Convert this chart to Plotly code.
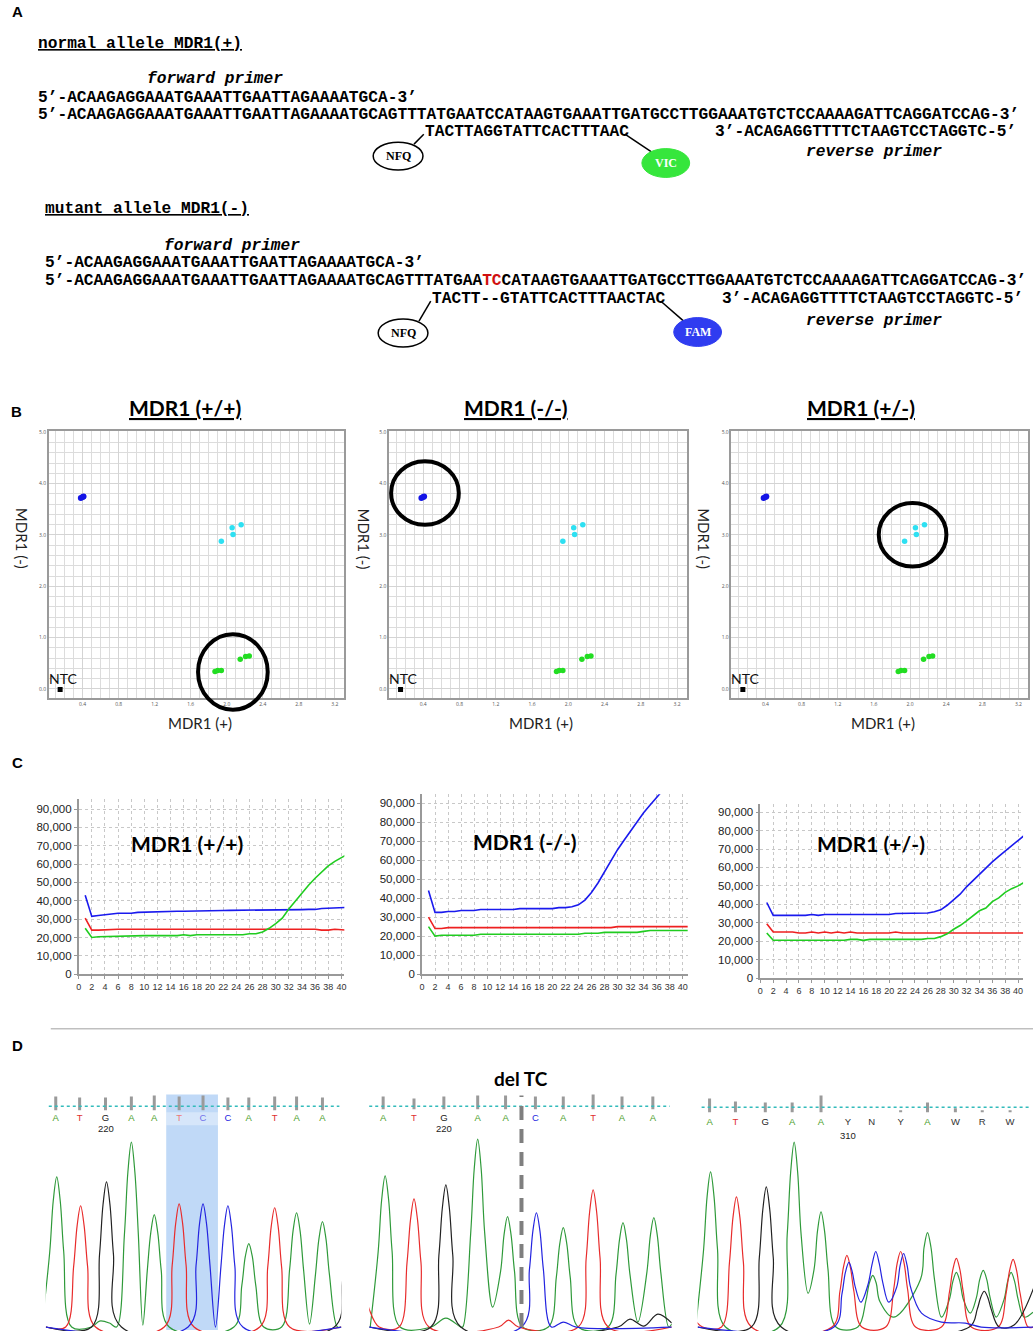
import plotly.graph_objects as go

W, H = 1035, 1339

# ---------------- A: sequences ----------------
fwd_primer = "5’-ACAAGAGGAAATGAAATTGAATTAGAAAATGCA-3’"
seq_head = "5’-ACAAGAGGAAATGAAATTGAATTAGAAAATGCAGTTTATGAA"
seq_tc = "TC"
seq_tail = "CATAAGTGAAATTGATGCCTTGGAAATGTCTCCAAAAGATTCAGGATCCAG-3’"
probe_vic = "TACTTAGGTATTCACTTTAAC"
probe_fam = "TACTT--GTATTCACTTTAACTAC"
rev_primer = "3’-ACAGAGGTTTTCTAAGTCCTAGGTC-5’"
probe_start = 40   # character index under the template
rev_start = 70

# ---------------- B: allelic discrimination ----------------
fam_x = [0.38, 0.40, 0.41]
fam_y = [3.72, 3.74, 3.75]
het_x = [2.06, 2.16, 2.07, 1.94]
het_y = [3.14, 3.20, 3.01, 2.88]
vic_x = [1.87, 1.90, 1.94, 2.15, 2.21, 2.25]
vic_y = [0.34, 0.36, 0.36, 0.58, 0.63, 0.64]
ntc_x = [0.15]
ntc_y = [-0.01]
genotypes = ['MDR1 (+/+)', 'MDR1 (-/-)', 'MDR1 (+/-)']
b_xticks = [0.4, 0.8, 1.2, 1.6, 2.0, 2.4, 2.8, 3.2]
b_yticks = [0.0, 1.0, 2.0, 3.0, 4.0, 5.0]

# ---------------- C: amplification plots ----------------
cycles = list(range(1, 42))
c1_blue = [43000, 31500, 32000, 32500, 33000, 33200, 33200, 33200, 33700, 33800,
           33800, 34300, 34300, 34300, 34300, 34300, 34300, 34300, 34300, 34300,
           34300, 34700, 34800, 34800, 34800, 34800, 34800, 34800, 34800, 34800,
           34800, 34800, 35000, 35200, 35300, 35300, 35800, 36000, 36000, 36200, 36400]
c1_red = [30500, 24000, 24000, 24300, 24500, 24500, 24500, 24500, 24500, 24500,
          24500, 24500, 24500, 24500, 24500, 24500, 24500, 24500, 24500, 24500,
          24500, 24500, 24500, 24500, 24500, 24500, 24500, 24500, 24500, 24500,
          24500, 24500, 24500, 24500, 24500, 24500, 24000, 24000, 24500, 24200, 24000]
c1_green = [25000, 20000, 20400, 20500, 20500, 20500, 21000, 21000, 21000, 21000,
            21000, 21000, 21000, 21000, 21000, 21500, 21000, 21500, 21500, 21500,
            21500, 21500, 21500, 21500, 21500, 22000, 22000, 23000, 25000, 27500,
            30500, 35500, 40000, 44500, 48500, 52300, 55500, 59000, 61500, 63500, 65500]
c2_blue = [44000, 32500, 32500, 33000, 33000, 33500, 33500, 33500, 34000, 34000,
           34000, 34000, 34000, 34000, 34500, 34500, 34500, 34500, 34500, 34500,
           35000, 35000, 35500, 36500, 39000, 43000, 48000, 54000, 60000, 65500,
           70500, 75500, 80500, 85000, 89000, 93000, 97000, 100000, 103000, 106000, 108000]
c2_red = [30000, 24000, 24000, 24500, 24500, 24500, 24500, 24500, 24500, 24500,
          24500, 24500, 24500, 24500, 24500, 24500, 24500, 24500, 24500, 24500,
          24500, 24500, 24500, 24500, 24500, 24500, 24500, 24500, 24500, 25000,
          25000, 25000, 25000, 25000, 25000, 25000, 25000, 25000, 25000, 25000, 25000]
c2_green = [25000, 20000, 20500, 20500, 20500, 20500, 20500, 20500, 21000, 21000,
            21000, 21000, 21000, 21000, 21000, 21000, 21000, 21000, 21000, 21000,
            21000, 21000, 21000, 21000, 21500, 21500, 21500, 22000, 22000, 22000,
            22000, 22000, 22000, 22500, 23000, 23000, 23000, 23000, 23000, 23000, 23000]
c3_blue = [41000, 34000, 34000, 34000, 34000, 34000, 34000, 34500, 34000, 34500,
           34500, 34500, 34500, 34500, 34500, 34500, 34500, 34500, 34500, 34500,
           35000, 35000, 35000, 35000, 35000, 35300, 36000, 37000, 39500, 42500,
           45500, 49500, 53000, 56500, 59500, 63000, 66000, 69000, 71500, 74500, 77500]
c3_red = [29500, 25000, 25000, 25000, 25000, 24500, 24500, 25000, 24500, 25000,
          24500, 25000, 24500, 25000, 24500, 24500, 24500, 24500, 24500, 24500,
          25000, 24500, 24500, 24500, 24500, 24500, 24500, 24500, 24500, 24500,
          24500, 24500, 24500, 24500, 24500, 24500, 24500, 24500, 24500, 24500, 24500]
c3_green = [24500, 20500, 20500, 20500, 20500, 20500, 20500, 20500, 20500, 20500,
            20500, 20500, 20500, 21000, 21000, 20500, 21000, 21000, 21000, 21000,
            21000, 21000, 21000, 21000, 21000, 21500, 21500, 22500, 24000, 26500,
            28500, 31000, 34000, 36500, 38000, 41500, 43500, 46500, 48500, 50000, 52000]
c_xticks = list(range(0, 41, 2))

# ---------------- D: sequencing traces (scan units, signal units) ----------------
d1_bases = ['A', 'T', 'G', 'A', 'A', 'T', 'C', 'C', 'A', 'T', 'A', 'A']
d1_pos = [10, 34, 60, 86, 109, 134, 158, 183, 204, 230, 252, 278]
d1_qual = [14, 13, 13, 14, 15, 14, 15, 13, 13, 14, 14, 13]
d1_a_x = [-4, 4, 7.5, 11, 14.5, 18, 26, 46, 54, 64, 71, 79, 82.5, 86, 89.5, 93, 97.5,
          102, 105.5, 109, 112.5, 116, 124, 189, 197, 200.5, 204, 207.5, 211, 219,
          237, 245, 248.5, 252, 255.5, 259, 265, 271, 274.5, 278, 281.5, 285, 293, 297]
d1_a_y = [0, 76, 127, 151, 127, 76, 0, 0, 6, 4, 0, 93, 156, 186, 156, 93, 2,
          57, 95, 113, 95, 57, 0, 0, 42, 71, 84, 71, 42, 0,
          0, 58, 97, 115, 97, 58, 3, 53, 89, 106, 89, 53, 0, 0]
d1_t_x = [0, 20, 28, 31.5, 35, 38.5, 42, 50, 119, 127, 130.5, 134, 137.5, 141, 149,
          215, 223, 226.5, 230, 233.5, 237, 245, 297]
d1_t_y = [0, 0, 61, 102, 122, 102, 61, 0, 0, 62, 104, 124, 104, 62, 0,
          0, 60, 101, 120, 101, 60, 0, 0]
d1_g_x = [0, 46, 54, 57.5, 61, 64.5, 68, 76, 290, 298, 301.5, 305]
d1_g_y = [0, 0, 73, 123, 146, 123, 73, 0, 0, 45, 76, 90]
d1_c_x = [0, 143, 151, 154.5, 158, 161.5, 165, 170.5, 176, 179.5, 183, 186.5, 190, 198, 297]
d1_c_y = [0, 0, 62, 104, 124, 104, 62, 0, 61, 102, 122, 102, 61, 0, 0]

d2_bases = ['A', 'T', 'G', 'A', 'A', 'C', 'A', 'T', 'A', 'A']
d2_pos = [14, 45, 75, 109, 137, 167, 195, 225, 254, 285]
d2_qual = [13, 11, 13, 14, 14, 13, 13, 15, 13, 13]
d2_a_x = [1, 9, 12.5, 16, 19.5, 23, 31, 62, 77, 92, 94, 102, 105.5, 109, 112.5, 116, 124,
          132, 135.5, 139, 142.5, 146, 154, 180, 188, 191.5, 195, 198.5, 202, 210,
          240, 248, 251.5, 255, 258.5, 262, 270, 279, 282.5, 286, 289.5, 293, 301, 304]
d2_a_y = [0, 76, 128, 152, 128, 76, 0, 0, 9, 0, 0, 95, 159, 189, 159, 95, 20,
          56, 93, 111, 93, 56, 0, 0, 50, 84, 100, 84, 50, 0,
          0, 53, 88, 105, 88, 53, 5, 55, 92, 110, 92, 55, 0, 3]
d2_t_x = [-6, 0, 10, 30, 38, 41.5, 45, 48.5, 52, 60, 130, 140, 150,
          210, 218, 221.5, 225, 228.5, 232, 240, 304]
d2_t_y = [45, 18, 0, 0, 65, 108, 129, 108, 65, 0, 0, 7, 0,
          0, 69, 116, 138, 116, 69, 0, 0]
d2_g_x = [0, 62, 70, 73.5, 77, 80.5, 84, 92, 250, 262, 276, 290, 304]
d2_g_y = [0, 0, 72, 120, 143, 120, 72, 0, 0, 8, 1, 13, 4]
d2_c_x = [0, 153, 161, 164.5, 168, 171.5, 175, 183, 195, 208, 304]
d2_c_y = [0, 0, 58, 97, 115, 97, 58, 0, 5, 0, 0]
d2_deletion = 153

d3_bases = ['A', 'T', 'G', 'A', 'A', 'Y', 'N', 'Y', 'A', 'W', 'R', 'W']
d3_pos = [12, 38, 68, 95, 124, 151, 175, 204, 231, 259, 286, 314]
d3_qual = [14, 11, 10, 10, 17, 0, 0, 2, 10, 4, 2, 2]
d3_a_x = [-2, 6, 9.5, 13, 16.5, 20, 28, 82, 90, 93.5, 97, 100.5, 104, 111,
          117, 120.5, 124, 127.5, 131, 139, 161, 169, 172.5, 176, 179.5, 183, 197,
          224, 227.5, 231, 234.5, 238, 245, 253, 256.5, 260, 263.5, 267, 274,
          280, 283.5, 287, 290.5, 294, 300, 308, 311.5, 315, 318.5, 322, 328, 337]
d3_a_y = [0, 78, 131, 156, 131, 78, 0, 0, 93, 156, 186, 156, 93, 34,
          58, 97, 116, 97, 58, 0, 0, 26, 44, 52, 44, 26, 10,
          48, 80, 95, 80, 48, 10, 28, 46, 55, 46, 28, 14,
          29, 48, 57, 48, 29, 10, 28, 46, 55, 46, 28, 10, 15]
d3_t_x = [-5, 5, 24, 32, 35.5, 39, 42.5, 46, 54, 135, 143, 146.5, 150, 153.5, 157, 165,
          189, 197, 200.5, 204, 207.5, 211, 219, 245, 253, 256.5, 260, 263.5, 267, 275,
          302, 310, 313.5, 317, 320.5, 324, 332, 337]
d3_t_y = [10, 0, 0, 65, 110, 131, 110, 65, 0, 0, 36, 60, 72, 60, 36, 0,
          0, 38, 64, 76, 64, 38, 0, 0, 35, 58, 69, 58, 35, 0,
          0, 34, 57, 68, 57, 34, 0, 0]
d3_g_x = [0, 54, 62, 65.5, 69, 72.5, 76, 84, 273, 281, 284.5, 288, 291.5, 295, 303, 318, 345]
d3_g_y = [0, 0, 70, 118, 141, 118, 70, 0, 0, 18, 30, 36, 30, 18, 0, 2, 60]
d3_c_x = [0, 137, 145, 148.5, 152, 155.5, 158, 164, 171, 175.5, 179, 182.5, 186, 192,
          200, 203.5, 207, 210.5, 214, 225, 245, 269, 285, 337]
d3_c_y = [0, 0, 33, 55, 65, 55, 42, 25, 42, 64, 76, 64, 45, 25,
          40, 62, 74, 62, 40, 14, 5, 4, 0, 0]

BLUE, RED, GREEN = '#1a1aee', '#ee2020', '#20cc20'
TR_A, TR_T, TR_G, TR_C = '#2f9a3a', '#e82c2c', '#222222', '#2424e0'
LETTER_COL = {'A': '#4a9e2a', 'T': '#e03030', 'G': '#202020', 'C': '#2424e0'}


def px(x):
    return x / W


def py(y):
    return 1 - y / H


fig = go.Figure()
annotations = []
shapes = []
layout_axes = {}
n_axes = [0]


def new_axes(x0, x1, y0, y1, xa, ya):
    n_axes[0] += 1
    k = n_axes[0]
    s = '' if k == 1 else str(k)
    layout_axes['xaxis' + s] = dict(domain=[px(x0), px(x1)], anchor='y' + s, **xa)
    layout_axes['yaxis' + s] = dict(domain=[py(y1), py(y0)], anchor='x' + s, **ya)
    return 'x' + s, 'y' + s


def txt(x, y, text, size, family, color='black', xanchor='left', **kw):
    annotations.append(dict(x=px(x), y=py(y), xref='paper', yref='paper', text=text,
                            showarrow=False, xanchor=xanchor, yanchor='middle',
                            font=dict(size=size, family=family, color=color), **kw))


SANS = 'Lato'
MONO = 'Liberation Mono'
FS = 16.2
CW = FS * 0.6

# panel letters
for letter, (lx, ly) in zip('ABCD', [(15, 10), (14, 412), (15, 765), (15, 1050)]):
    txt(lx, ly, '<b>' + letter + '</b>', 15, 'Liberation Sans', xanchor='center')

# ---------- A ----------
blocks = [
    dict(x0=33, title='normal allele MDR1(+)', fp_x=143, ys=[42, 77, 97, 114, 131, 151],
         tc_color='black', probe=probe_vic, dye='VIC', dye_fill='#36e63c',
         nfq=(397, 155), dye_c=(666, 162)),
    dict(x0=40, title='mutant allele MDR1(-)', fp_x=160, ys=[208, 245, 263, 281, 299, 321],
         tc_color='#d01010', probe=probe_fam, dye='FAM', dye_fill='#2f3cf0',
         nfq=(402, 333), dye_c=(698, 332)),
]
for b in blocks:
    x0 = b['x0']
    yt, yfp, yf, ys, yp, yrp = b['ys']
    txt(x0, yt, '<b><u>' + b['title'] + '</u></b>', FS, MONO)
    txt(b['fp_x'], yfp, '<b><i>forward primer</i></b>', FS, MONO)
    txt(x0, yf, '<b>' + fwd_primer + '</b>', FS, MONO)
    txt(x0, ys, '<b>' + seq_head + "<span style='color:%s'>" % b['tc_color'] + seq_tc
        + '</span>' + seq_tail + '</b>', FS, MONO)
    txt(x0 + probe_start * CW, yp, '<b>' + b['probe'] + '</b>', FS, MONO)
    txt(x0 + rev_start * CW, yp, '<b>' + rev_primer + '</b>', FS, MONO)
    txt(805, yrp, '<b><i>reverse primer</i></b>', FS, MONO)
    # quencher / dye ellipses
    p_left = x0 + probe_start * CW
    p_right = p_left + len(b['probe']) * CW
    nx, ny = b['nfq']
    dx, dy = b['dye_c']
    shapes.append(dict(type='line', xref='paper', yref='paper', x0=px(nx + 16), y0=py(ny - 12),
                       x1=px(p_left + 1), y1=py(yp + 2), line=dict(color='black', width=1.5)))
    shapes.append(dict(type='line', xref='paper', yref='paper', x0=px(p_right - 1), y0=py(yp + 2),
                       x1=px(dx - 14), y1=py(dy - 11), line=dict(color='black', width=1.5)))
    shapes.append(dict(type='circle', xref='paper', yref='paper', x0=px(nx - 25), x1=px(nx + 25),
                       y0=py(ny + 14), y1=py(ny - 14), fillcolor='white',
                       line=dict(color='black', width=1.5)))
    shapes.append(dict(type='circle', xref='paper', yref='paper', x0=px(dx - 24), x1=px(dx + 24),
                       y0=py(dy + 14.5), y1=py(dy - 14.5), fillcolor=b['dye_fill'],
                       line=dict(color=b['dye_fill'], width=1)))
    txt(nx, ny, '<b>NFQ</b>', 12, 'Liberation Serif', xanchor='center')
    txt(dx, dy, '<b>' + b['dye'] + '</b>', 12, 'Liberation Serif', color='white', xanchor='center')

# ---------- B ----------
b_left = [46, 388, 732]
b_right = [343, 687, 1030]
b_title_x = [183, 515, 862]
b_ytitle_x = [19, 363, 705]
b_circles = [(231, 674, 35, 38), (424, 494, 34, 32), (914, 536, 34, 32)]
for i in range(3):
    xa = dict(range=[0.024, 3.306], tickvals=b_xticks, ticktext=['%.1f' % v for v in b_xticks],
              tickfont=dict(size=5, color='#555'), showgrid=True, gridcolor='#d4d4d4',
              minor=dict(dtick=0.1, showgrid=True, gridcolor='#dcdcdc'),
              showline=True, mirror=True, linecolor='#9a9a9a', linewidth=1.5,
              zeroline=False, ticks='')
    ya = dict(range=[-0.174, 5.019], tickvals=b_yticks, ticktext=['%.1f' % v for v in b_yticks],
              tickfont=dict(size=5, color='#555'), showgrid=True, gridcolor='#d4d4d4',
              minor=dict(dtick=0.2, showgrid=True, gridcolor='#dcdcdc'),
              showline=True, mirror=True, linecolor='#9a9a9a', linewidth=1.5,
              zeroline=False, ticks='')
    xr, yr = new_axes(b_left[i], b_right[i], 432, 700, xa, ya)
    fig.add_trace(go.Scatter(x=fam_x, y=fam_y, mode='markers', xaxis=xr, yaxis=yr,
                             marker=dict(color='#1414e6', size=6)))
    fig.add_trace(go.Scatter(x=het_x, y=het_y, mode='markers', xaxis=xr, yaxis=yr,
                             marker=dict(color='#2ee0f2', size=5.5)))
    fig.add_trace(go.Scatter(x=vic_x, y=vic_y, mode='markers', xaxis=xr, yaxis=yr,
                             marker=dict(color='#22dd22', size=5.5)))
    fig.add_trace(go.Scatter(x=ntc_x, y=ntc_y, mode='markers', xaxis=xr, yaxis=yr,
                             marker=dict(color='black', size=5, symbol='square')))
    annotations.append(dict(x=ntc_x[0], y=ntc_y[0], xref=xr, yref=yr, text='NTC', showarrow=False,
                            yshift=11, xshift=3, font=dict(size=14, family=SANS, color='#111')))
    cx = (b_left[i] + b_right[i]) / 2
    txt(b_title_x[i], 408, '<b><u>' + genotypes[i] + '</u></b>', 21, SANS, xanchor='center')
    txt(cx + 3, 725, 'MDR1 (+)', 15, SANS, color='#222', xanchor='center')
    txt(b_ytitle_x[i], 540, 'MDR1 (-)', 15, SANS, color='#222', xanchor='center', textangle=90)
    ccx, ccy, rw, rh = b_circles[i]
    shapes.append(dict(type='circle', xref='paper', yref='paper', x0=px(ccx - rw), x1=px(ccx + rw),
                       y0=py(ccy + rh), y1=py(ccy - rh), line=dict(color='black', width=4)))

# ---------- C ----------
c_boxes = [(76, 343, 802, 978, 40.45, 95400), (421, 688, 797, 978, 40.76, 94700),
           (761, 1025, 807, 982, 40.77, 94300)]
c_series = [(c1_blue, c1_red, c1_green), (c2_blue, c2_red, c2_green), (c3_blue, c3_red, c3_green)]
c_label_pos = [(185, 847), (525, 845), (872, 847)]
for i in range(3):
    x0, x1, y0, y1, xmax, ymax = c_boxes[i]
    xa = dict(range=[0, xmax], tickvals=c_xticks, tickfont=dict(size=9, color='#333', family='Liberation Sans'),
              showgrid=True, gridcolor='#c8c8c8', griddash='dot', showline=True, linecolor='#999',
              linewidth=1.5, ticks='outside', ticklen=3, tickcolor='#999', zeroline=False)
    ya = dict(range=[0, ymax], dtick=10000, tickformat=',', tickfont=dict(size=11.5, color='#222', family='Liberation Sans'),
              showgrid=True, gridcolor='#c8c8c8', griddash='dot', showline=True, linecolor='#999',
              linewidth=1.5, ticks='outside', ticklen=3, tickcolor='#999', zeroline=False)
    xr, yr = new_axes(x0, x1, y0, y1, xa, ya)
    for vals, col in zip(c_series[i], (BLUE, RED, GREEN)):
        fig.add_trace(go.Scatter(x=cycles, y=vals, mode='lines', xaxis=xr, yaxis=yr,
                                 line=dict(color=col, width=1.6)))
    lx, ly = c_label_pos[i]
    txt(lx, ly, '<b>' + genotypes[i] + '</b>', 21, SANS, xanchor='center')

shapes.append(dict(type='line', xref='paper', yref='paper', x0=px(48), x1=px(1035),
                   y0=py(1033), y1=py(1033), line=dict(color='#a0a0a0', width=1)))

# ---------- D ----------
d_panels = [
    dict(x0=43, x1=340, span=297, bases=d1_bases, pos=d1_pos, qual=d1_qual, qb=218, ly=210,
         tr=[(d1_a_x, d1_a_y, TR_A), (d1_t_x, d1_t_y, TR_T), (d1_g_x, d1_g_y, TR_G), (d1_c_x, d1_c_y, TR_C)],
         num='220', num_i=2, ny=200, dot=(46, 338, 1111)),
    dict(x0=368, x1=672, span=304, bases=d2_bases, pos=d2_pos, qual=d2_qual, qb=219, ly=210,
         tr=[(d2_a_x, d2_a_y, TR_A), (d2_t_x, d2_t_y, TR_T), (d2_g_x, d2_g_y, TR_G), (d2_c_x, d2_c_y, TR_C)],
         num='220', num_i=2, ny=200, dot=(368, 670, 1111)),
    dict(x0=698, x1=1035, span=337, bases=d3_bases, pos=d3_pos, qual=d3_qual, qb=216, ly=206,
         tr=[(d3_a_x, d3_a_y, TR_A), (d3_t_x, d3_t_y, TR_T), (d3_g_x, d3_g_y, TR_G), (d3_c_x, d3_c_y, TR_C)],
         num='310', num_i=5, ny=193, dot=(702, 1033, 1112)),
]
d_refs = []
for p in d_panels:
    hidden = dict(visible=False, showgrid=False, zeroline=False)
    xr, yr = new_axes(p['x0'], p['x1'], 1092, 1337, dict(range=[0, p['span']], **hidden),
                      dict(range=[-4, 241], **hidden))
    d_refs.append((xr, yr))
    dx0, dx1, dyy = p['dot']
    shapes.append(dict(type='line', xref='paper', yref='paper', x0=px(dx0), x1=px(dx1),
                       y0=py(dyy), y1=py(dyy), line=dict(color='#33bbbb', width=1.5, dash='dot')))
    for tx, ty, col in p['tr']:
        fig.add_trace(go.Scatter(x=tx, y=ty, mode='lines', xaxis=xr, yaxis=yr,
                                 line=dict(color=col, width=1.2, shape='spline', smoothing=1.0)))
    bx, by = [], []
    for q, b in zip(p['qual'], p['pos']):
        if q > 0:
            bx += [b, b, None]
            by += [p['qb'], p['qb'] + q, None]
    fig.add_trace(go.Scatter(x=bx, y=by, mode='lines', xaxis=xr, yaxis=yr,
                             line=dict(color='#9a9a9a', width=3)))
    fig.add_trace(go.Scatter(x=p['pos'], y=[p['ly']] * len(p['pos']), mode='text', xaxis=xr, yaxis=yr,
                             text=p['bases'],
                             textfont=dict(size=9.5, family='Liberation Sans',
                                           color=[LETTER_COL.get(c, '#333') for c in p['bases']])))
    annotations.append(dict(x=p['pos'][p['num_i']], y=p['ny'], xref=xr, yref=yr, text=p['num'],
                            showarrow=False, font=dict(size=9.5, family='Liberation Sans', color='#222')))

# highlighted TC in the normal trace
xr1, yr1 = d_refs[0]
shapes.append(dict(type='rect', xref=xr1, yref='paper', x0=121, x1=173, y0=py(1336), y1=py(1099),
                   fillcolor='rgba(130,180,240,0.5)', line=dict(width=0), layer='below'))
shapes.append(dict(type='rect', xref=xr1, yref='paper', x0=121, x1=173, y0=py(1130), y1=py(1117),
                   fillcolor='rgba(255,255,255,0.35)', line=dict(width=0)))
# deletion site in the mutant trace
xr2, yr2 = d_refs[1]
shapes.append(dict(type='line', xref=xr2, yref='paper', x0=d2_deletion, x1=d2_deletion,
                   y0=py(1333), y1=py(1100), line=dict(color='#7f7f7f', width=4, dash='14px,9px')))
txt(521, 1083, '<b>del TC</b>', 19, SANS, xanchor='center')

fig.update_layout(
    width=W, height=H,
    margin=dict(l=0, r=0, t=0, b=0),
    paper_bgcolor='white', plot_bgcolor='white',
    showlegend=False,
    annotations=annotations,
    shapes=shapes,
    **layout_axes
)

fig.write_html("out.html", config={'displayModeBar': False},
               post_script="document.body.style.margin='0px';")
